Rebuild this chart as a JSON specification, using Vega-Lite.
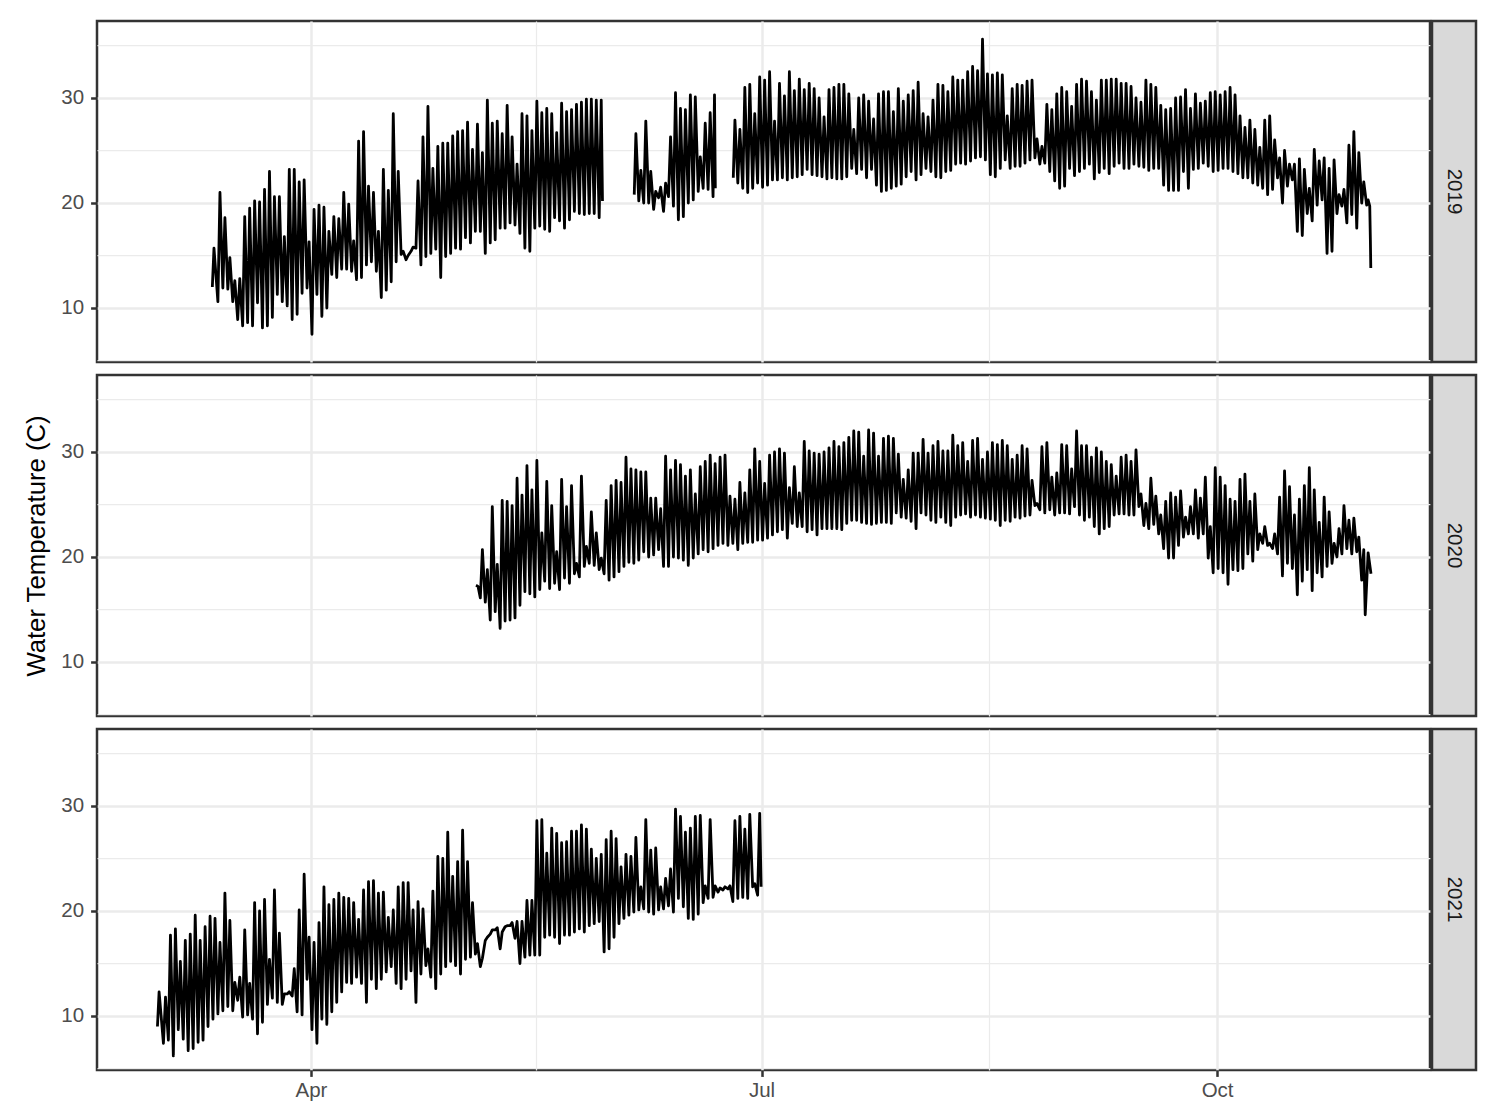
{
  "$schema": "https://vega.github.io/schema/vega-lite/v6.json",
  "background": "white",
  "padding": {"left": 22, "top": 19, "right": 5, "bottom": 5},
  "spacing": 0,
  "vconcat": [
    {
      "spacing": -3,
      "hconcat": [
        {
          "width": 1333,
          "height": 341,
          "data": {
            "format": {"parse": {"t": "date:'%m-%d %H'"}},
            "values": [
              {"t":"03-12 02","v":12.0},{"t":"03-12 10","v":15.7},
              {"t":"03-13 05","v":10.6},{"t":"03-13 15","v":21.0},
              {"t":"03-14 05","v":11.9},{"t":"03-14 15","v":18.6},
              {"t":"03-15 05","v":11.8},{"t":"03-15 15","v":14.8},
              {"t":"03-16 05","v":10.6},{"t":"03-16 15","v":12.6},
              {"t":"03-17 05","v":8.9},{"t":"03-17 15","v":12.8},
              {"t":"03-18 05","v":8.3},{"t":"03-18 15","v":18.7},
              {"t":"03-19 05","v":8.6},{"t":"03-19 15","v":19.5},
              {"t":"03-20 05","v":8.3},{"t":"03-20 15","v":20.2},
              {"t":"03-21 05","v":10.5},{"t":"03-21 15","v":20.1},
              {"t":"03-22 05","v":8.1},{"t":"03-22 15","v":21.3},
              {"t":"03-23 05","v":8.3},{"t":"03-23 15","v":23.0},
              {"t":"03-24 05","v":9.1},{"t":"03-24 15","v":20.6},
              {"t":"03-25 05","v":11.3},{"t":"03-25 15","v":20.6},
              {"t":"03-26 05","v":10.6},{"t":"03-26 15","v":16.8},
              {"t":"03-27 05","v":10.2},{"t":"03-27 15","v":23.2},
              {"t":"03-28 05","v":8.9},{"t":"03-28 15","v":23.2},
              {"t":"03-29 05","v":9.4},{"t":"03-29 15","v":22.0},
              {"t":"03-30 05","v":11.4},{"t":"03-30 15","v":22.2},
              {"t":"03-31 05","v":11.9},{"t":"03-31 15","v":16.3},
              {"t":"04-01 05","v":7.5},{"t":"04-01 15","v":19.4},
              {"t":"04-02 05","v":11.3},{"t":"04-02 15","v":19.8},
              {"t":"04-03 05","v":9.2},{"t":"04-03 15","v":19.6},
              {"t":"04-04 05","v":10.0},{"t":"04-04 15","v":17.3},
              {"t":"04-05 05","v":13.2},{"t":"04-05 15","v":18.7},
              {"t":"04-06 05","v":12.9},{"t":"04-06 15","v":18.5},
              {"t":"04-07 05","v":13.7},{"t":"04-07 15","v":21.0},
              {"t":"04-08 05","v":13.7},{"t":"04-08 15","v":19.9},
              {"t":"04-09 05","v":13.5},{"t":"04-09 15","v":16.4},
              {"t":"04-10 05","v":12.7},{"t":"04-10 15","v":25.9},
              {"t":"04-11 05","v":12.9},{"t":"04-11 15","v":26.8},
              {"t":"04-12 05","v":14.1},{"t":"04-12 15","v":21.6},
              {"t":"04-13 05","v":14.4},{"t":"04-13 15","v":21.0},
              {"t":"04-14 05","v":13.5},{"t":"04-14 15","v":17.3},
              {"t":"04-15 05","v":11.0},{"t":"04-15 15","v":23.2},
              {"t":"04-16 05","v":11.7},{"t":"04-16 15","v":21.2},
              {"t":"04-17 05","v":12.5},{"t":"04-17 15","v":28.5},
              {"t":"04-18 05","v":14.4},{"t":"04-18 15","v":23.0},
              {"t":"04-19 05","v":15.1},{"t":"04-19 15","v":15.4},
              {"t":"04-20 05","v":14.6},{"t":"04-20 15","v":15.0},
              {"t":"04-21 05","v":15.4},{"t":"04-21 15","v":15.8},
              {"t":"04-22 05","v":15.7},{"t":"04-22 15","v":22.1},
              {"t":"04-23 05","v":14.1},{"t":"04-23 15","v":26.3},
              {"t":"04-24 05","v":14.9},{"t":"04-24 15","v":29.2},
              {"t":"04-25 05","v":15.2},{"t":"04-25 15","v":23.3},
              {"t":"04-26 05","v":15.6},{"t":"04-26 15","v":25.4},
              {"t":"04-27 05","v":12.9},{"t":"04-27 15","v":25.7},
              {"t":"04-28 05","v":14.9},{"t":"04-28 15","v":25.7},
              {"t":"04-29 05","v":15.2},{"t":"04-29 15","v":26.4},
              {"t":"04-30 05","v":15.7},{"t":"04-30 15","v":26.8},
              {"t":"05-01 05","v":15.6},{"t":"05-01 15","v":26.9},
              {"t":"05-02 05","v":16.7},{"t":"05-02 15","v":27.7},
              {"t":"05-03 05","v":16.2},{"t":"05-03 15","v":25.1},
              {"t":"05-04 05","v":17.3},{"t":"05-04 15","v":27.5},
              {"t":"05-05 05","v":17.3},{"t":"05-05 15","v":24.8},
              {"t":"05-06 05","v":15.2},{"t":"05-06 15","v":29.8},
              {"t":"05-07 05","v":16.2},{"t":"05-07 15","v":27.6},
              {"t":"05-08 05","v":16.5},{"t":"05-08 15","v":27.8},
              {"t":"05-09 05","v":17.6},{"t":"05-09 15","v":26.6},
              {"t":"05-10 05","v":17.6},{"t":"05-10 15","v":29.3},
              {"t":"05-11 05","v":18.1},{"t":"05-11 15","v":26.3},
              {"t":"05-12 05","v":17.9},{"t":"05-12 15","v":23.7},
              {"t":"05-13 05","v":17.1},{"t":"05-13 15","v":28.5},
              {"t":"05-14 05","v":15.7},{"t":"05-14 15","v":28.3},
              {"t":"05-15 05","v":15.4},{"t":"05-15 15","v":26.9},
              {"t":"05-16 05","v":17.6},{"t":"05-16 15","v":29.7},
              {"t":"05-17 05","v":17.8},{"t":"05-17 15","v":28.6},
              {"t":"05-18 05","v":17.5},{"t":"05-18 15","v":29.0},
              {"t":"05-19 05","v":17.3},{"t":"05-19 15","v":28.5},
              {"t":"05-20 05","v":18.6},{"t":"05-20 15","v":26.7},
              {"t":"05-21 05","v":18.3},{"t":"05-21 15","v":29.5},
              {"t":"05-22 05","v":17.6},{"t":"05-22 15","v":28.7},
              {"t":"05-23 05","v":18.4},{"t":"05-23 15","v":28.9},
              {"t":"05-24 05","v":19.2},{"t":"05-24 15","v":29.4},
              {"t":"05-25 05","v":19.0},{"t":"05-25 15","v":29.6},
              {"t":"05-26 05","v":18.9},{"t":"05-26 15","v":29.9},
              {"t":"05-27 05","v":19.0},{"t":"05-27 15","v":29.9},
              {"t":"05-28 05","v":19.0},{"t":"05-28 15","v":29.8},
              {"t":"05-29 05","v":18.6},{"t":"05-29 15","v":29.8},
              {"t":"05-29 21","v":20.2},
              {"t":"06-02 00","v":null},
              {"t":"06-05 07","v":20.8},{"t":"06-05 15","v":26.6},
              {"t":"06-06 05","v":20.2},{"t":"06-06 15","v":23.1},
              {"t":"06-07 05","v":20.0},{"t":"06-07 15","v":27.8},
              {"t":"06-08 05","v":20.0},{"t":"06-08 15","v":23.0},
              {"t":"06-09 05","v":19.4},{"t":"06-09 15","v":21.1},
              {"t":"06-10 05","v":20.5},{"t":"06-10 15","v":21.5},
              {"t":"06-11 05","v":19.2},{"t":"06-11 15","v":21.9},
              {"t":"06-12 05","v":20.6},{"t":"06-12 15","v":26.3},
              {"t":"06-13 05","v":19.7},{"t":"06-13 15","v":30.5},
              {"t":"06-14 05","v":18.4},{"t":"06-14 15","v":29.0},
              {"t":"06-15 05","v":18.7},{"t":"06-15 15","v":28.9},
              {"t":"06-16 05","v":20.0},{"t":"06-16 15","v":30.3},
              {"t":"06-17 05","v":20.3},{"t":"06-17 15","v":30.1},
              {"t":"06-18 05","v":21.1},{"t":"06-18 15","v":24.4},
              {"t":"06-19 05","v":21.4},{"t":"06-19 15","v":27.6},
              {"t":"06-20 05","v":21.3},{"t":"06-20 15","v":28.6},
              {"t":"06-21 05","v":20.6},{"t":"06-21 12","v":30.3},
              {"t":"06-21 16","v":21.4},
              {"t":"06-23 12","v":null},
              {"t":"06-25 07","v":22.4},{"t":"06-25 15","v":27.9},
              {"t":"06-26 05","v":21.9},{"t":"06-26 15","v":27.0},
              {"t":"06-27 05","v":21.4},{"t":"06-27 15","v":31.0},
              {"t":"06-28 05","v":21.0},{"t":"06-28 15","v":31.3},
              {"t":"06-29 05","v":21.4},{"t":"06-29 15","v":28.5},
              {"t":"06-30 05","v":21.9},{"t":"06-30 15","v":32.0},
              {"t":"07-01 05","v":21.5},{"t":"07-01 15","v":31.7},
              {"t":"07-02 05","v":21.7},{"t":"07-02 15","v":32.5},
              {"t":"07-03 05","v":22.2},{"t":"07-03 15","v":27.8},
              {"t":"07-04 05","v":22.2},{"t":"07-04 15","v":31.4},
              {"t":"07-05 05","v":22.4},{"t":"07-05 15","v":30.2},
              {"t":"07-06 05","v":22.2},{"t":"07-06 15","v":32.5},
              {"t":"07-07 05","v":22.4},{"t":"07-07 15","v":30.7},
              {"t":"07-08 05","v":22.5},{"t":"07-08 15","v":31.8},
              {"t":"07-09 05","v":22.7},{"t":"07-09 15","v":30.8},
              {"t":"07-10 05","v":23.2},{"t":"07-10 15","v":31.4},
              {"t":"07-11 05","v":22.7},{"t":"07-11 15","v":30.9},
              {"t":"07-12 05","v":22.6},{"t":"07-12 15","v":30.0},
              {"t":"07-13 05","v":22.5},{"t":"07-13 15","v":28.2},
              {"t":"07-14 05","v":22.3},{"t":"07-14 15","v":30.8},
              {"t":"07-15 05","v":22.4},{"t":"07-15 15","v":31.0},
              {"t":"07-16 05","v":22.3},{"t":"07-16 15","v":31.3},
              {"t":"07-17 05","v":22.3},{"t":"07-17 15","v":31.3},
              {"t":"07-18 05","v":22.5},{"t":"07-18 15","v":30.4},
              {"t":"07-19 05","v":23.3},{"t":"07-19 15","v":27.0},
              {"t":"07-20 05","v":22.8},{"t":"07-20 15","v":30.0},
              {"t":"07-21 05","v":23.2},{"t":"07-21 15","v":30.3},
              {"t":"07-22 05","v":22.4},{"t":"07-22 15","v":29.7},
              {"t":"07-23 05","v":23.2},{"t":"07-23 15","v":28.0},
              {"t":"07-24 05","v":21.7},{"t":"07-24 15","v":30.4},
              {"t":"07-25 05","v":21.1},{"t":"07-25 15","v":30.6},
              {"t":"07-26 05","v":21.2},{"t":"07-26 15","v":30.6},
              {"t":"07-27 05","v":21.4},{"t":"07-27 15","v":28.7},
              {"t":"07-28 05","v":21.6},{"t":"07-28 15","v":30.9},
              {"t":"07-29 05","v":21.8},{"t":"07-29 15","v":29.7},
              {"t":"07-30 05","v":22.5},{"t":"07-30 15","v":30.3},
              {"t":"07-31 05","v":23.0},{"t":"07-31 15","v":30.7},
              {"t":"08-01 05","v":22.2},{"t":"08-01 15","v":31.5},
              {"t":"08-02 05","v":22.7},{"t":"08-02 15","v":28.5},
              {"t":"08-03 05","v":23.3},{"t":"08-03 15","v":28.2},
              {"t":"08-04 05","v":23.0},{"t":"08-04 15","v":29.8},
              {"t":"08-05 05","v":22.5},{"t":"08-05 15","v":31.3},
              {"t":"08-06 05","v":22.4},{"t":"08-06 15","v":31.2},
              {"t":"08-07 05","v":23.0},{"t":"08-07 15","v":30.6},
              {"t":"08-08 05","v":23.1},{"t":"08-08 15","v":32.0},
              {"t":"08-09 05","v":23.7},{"t":"08-09 15","v":31.7},
              {"t":"08-10 05","v":23.8},{"t":"08-10 15","v":31.7},
              {"t":"08-11 05","v":23.7},{"t":"08-11 15","v":32.5},
              {"t":"08-12 05","v":24.0},{"t":"08-12 15","v":33.0},
              {"t":"08-13 05","v":24.3},{"t":"08-13 15","v":32.6},
              {"t":"08-14 05","v":24.4},{"t":"08-14 15","v":35.6},
              {"t":"08-15 05","v":24.1},{"t":"08-15 15","v":32.3},
              {"t":"08-16 05","v":22.7},{"t":"08-16 15","v":32.2},
              {"t":"08-17 05","v":22.5},{"t":"08-17 15","v":32.4},
              {"t":"08-18 05","v":23.3},{"t":"08-18 15","v":32.2},
              {"t":"08-19 05","v":24.1},{"t":"08-19 15","v":28.3},
              {"t":"08-20 05","v":23.3},{"t":"08-20 15","v":30.9},
              {"t":"08-21 05","v":23.5},{"t":"08-21 15","v":31.3},
              {"t":"08-22 05","v":23.5},{"t":"08-22 15","v":31.2},
              {"t":"08-23 05","v":23.8},{"t":"08-23 15","v":31.6},
              {"t":"08-24 05","v":24.1},{"t":"08-24 15","v":31.7},
              {"t":"08-25 05","v":24.3},{"t":"08-25 15","v":26.1},
              {"t":"08-26 05","v":23.7},{"t":"08-26 15","v":25.4},
              {"t":"08-27 05","v":23.8},{"t":"08-27 15","v":29.4},
              {"t":"08-28 05","v":23.0},{"t":"08-28 15","v":28.9},
              {"t":"08-29 05","v":22.1},{"t":"08-29 15","v":30.4},
              {"t":"08-30 05","v":21.4},{"t":"08-30 15","v":31.0},
              {"t":"08-31 05","v":21.6},{"t":"08-31 15","v":30.6},
              {"t":"09-01 05","v":23.3},{"t":"09-01 15","v":29.2},
              {"t":"09-02 05","v":22.6},{"t":"09-02 15","v":31.3},
              {"t":"09-03 05","v":23.0},{"t":"09-03 15","v":31.8},
              {"t":"09-04 05","v":23.3},{"t":"09-04 15","v":31.6},
              {"t":"09-05 05","v":23.7},{"t":"09-05 15","v":30.6},
              {"t":"09-06 05","v":22.3},{"t":"09-06 15","v":29.8},
              {"t":"09-07 05","v":22.9},{"t":"09-07 15","v":31.7},
              {"t":"09-08 05","v":23.3},{"t":"09-08 15","v":31.7},
              {"t":"09-09 05","v":22.8},{"t":"09-09 15","v":31.8},
              {"t":"09-10 05","v":23.5},{"t":"09-10 15","v":31.8},
              {"t":"09-11 05","v":23.8},{"t":"09-11 15","v":31.4},
              {"t":"09-12 05","v":23.3},{"t":"09-12 15","v":31.4},
              {"t":"09-13 05","v":23.3},{"t":"09-13 15","v":31.1},
              {"t":"09-14 05","v":23.7},{"t":"09-14 15","v":30.0},
              {"t":"09-15 05","v":23.5},{"t":"09-15 15","v":29.6},
              {"t":"09-16 05","v":23.4},{"t":"09-16 15","v":31.7},
              {"t":"09-17 05","v":23.1},{"t":"09-17 15","v":31.3},
              {"t":"09-18 05","v":23.3},{"t":"09-18 15","v":31.0},
              {"t":"09-19 05","v":23.3},{"t":"09-19 15","v":29.3},
              {"t":"09-20 05","v":21.7},{"t":"09-20 15","v":28.9},
              {"t":"09-21 05","v":21.2},{"t":"09-21 15","v":29.0},
              {"t":"09-22 05","v":21.2},{"t":"09-22 15","v":30.0},
              {"t":"09-23 05","v":21.2},{"t":"09-23 15","v":30.1},
              {"t":"09-24 05","v":23.0},{"t":"09-24 15","v":30.8},
              {"t":"09-25 05","v":21.4},{"t":"09-25 15","v":29.0},
              {"t":"09-26 05","v":23.2},{"t":"09-26 15","v":30.4},
              {"t":"09-27 05","v":23.3},{"t":"09-27 15","v":29.5},
              {"t":"09-28 05","v":23.8},{"t":"09-28 15","v":29.7},
              {"t":"09-29 05","v":23.5},{"t":"09-29 15","v":30.5},
              {"t":"09-30 05","v":23.0},{"t":"09-30 15","v":30.6},
              {"t":"10-01 05","v":23.1},{"t":"10-01 15","v":30.3},
              {"t":"10-02 05","v":23.3},{"t":"10-02 15","v":30.6},
              {"t":"10-03 05","v":23.3},{"t":"10-03 15","v":31.0},
              {"t":"10-04 05","v":23.0},{"t":"10-04 15","v":30.3},
              {"t":"10-05 05","v":22.8},{"t":"10-05 15","v":28.3},
              {"t":"10-06 05","v":22.4},{"t":"10-06 15","v":27.2},
              {"t":"10-07 05","v":22.4},{"t":"10-07 15","v":27.9},
              {"t":"10-08 05","v":21.9},{"t":"10-08 15","v":27.0},
              {"t":"10-09 05","v":21.7},{"t":"10-09 15","v":25.3},
              {"t":"10-10 05","v":21.4},{"t":"10-10 15","v":27.9},
              {"t":"10-11 05","v":20.8},{"t":"10-11 15","v":28.3},
              {"t":"10-12 05","v":21.3},{"t":"10-12 15","v":26.0},
              {"t":"10-13 05","v":22.4},{"t":"10-13 15","v":24.3},
              {"t":"10-14 05","v":20.0},{"t":"10-14 15","v":25.0},
              {"t":"10-15 05","v":21.6},{"t":"10-15 15","v":23.7},
              {"t":"10-16 05","v":22.2},{"t":"10-16 15","v":23.7},
              {"t":"10-17 05","v":17.3},{"t":"10-17 15","v":24.2},
              {"t":"10-18 05","v":16.9},{"t":"10-18 15","v":23.2},
              {"t":"10-19 05","v":19.0},{"t":"10-19 15","v":21.4},
              {"t":"10-20 05","v":18.3},{"t":"10-20 15","v":25.1},
              {"t":"10-21 05","v":19.8},{"t":"10-21 15","v":24.0},
              {"t":"10-22 05","v":20.3},{"t":"10-22 15","v":24.3},
              {"t":"10-23 05","v":15.2},{"t":"10-23 15","v":23.3},
              {"t":"10-24 05","v":15.4},{"t":"10-24 15","v":24.1},
              {"t":"10-25 05","v":19.0},{"t":"10-25 15","v":20.8},
              {"t":"10-26 05","v":19.7},{"t":"10-26 15","v":21.3},
              {"t":"10-27 05","v":18.1},{"t":"10-27 15","v":25.5},
              {"t":"10-28 05","v":18.9},{"t":"10-28 15","v":26.8},
              {"t":"10-29 05","v":17.6},{"t":"10-29 15","v":24.8},
              {"t":"10-30 05","v":20.0},{"t":"10-30 15","v":22.0},
              {"t":"10-31 05","v":19.8},{"t":"10-31 12","v":20.3},
              {"t":"10-31 20","v":19.7},{"t":"10-31 23","v":16.5},
              {"t":"11-01 01","v":13.8}
            ]
          },
          "mark": {"type": "line", "color": "#000000", "strokeWidth": 2.8, "strokeJoin": "round"},
          "encoding": {
            "x": {
              "field": "t", "type": "temporal",
              "scale": {"domain": [{"year": 1900, "month": 2, "date": 16, "hours": 19}, {"year": 1900, "month": 11, "date": 13}]},
              "axis": {
                "title": null, "labels": false, "ticks": false,
                "values": [{"year": 1900, "month": 4, "date": 1}, {"year": 1900, "month": 5, "date": 16, "hours": 12}, {"year": 1900, "month": 7, "date": 1}, {"year": 1900, "month": 8, "date": 16}, {"year": 1900, "month": 10, "date": 1}],
                "gridWidth": {"condition": {"test": "date(datum.value) == 1", "value": 2.5}, "value": 1.25}
              }
            },
            "y": {
              "field": "v", "type": "quantitative",
              "scale": {"domain": [4.857, 37.333], "nice": false, "zero": false},
              "axis": {
                "title": null,
                "values": [5, 10, 15, 20, 25, 30, 35],
                "labelExpr": "datum.value % 10 == 0 ? datum.label : ''",
                "tickOpacity": {"condition": {"test": "datum.value % 10 == 0", "value": 1}, "value": 0},
                "gridWidth": {"condition": {"test": "datum.value % 10 == 0", "value": 2.5}, "value": 1.25}
              }
            }
          }
        },
        {
          "width": 44,
          "height": 341,
          "data": {"values": [{"yr": "2019"}]},
          "view": {"fill": "#D9D9D9", "stroke": "#333333", "strokeWidth": 2.5},
          "mark": {"type": "text", "angle": 90, "fontSize": 20.5, "color": "#1A1A1A", "align": "center", "baseline": "middle"},
          "encoding": {"text": {"field": "yr", "type": "nominal"}}
        }
      ]
    },
    {
      "spacing": -3,
      "hconcat": [
        {
          "width": 1333,
          "height": 341,
          "data": {
            "format": {"parse": {"t": "date:'%m-%d %H'"}},
            "values": [
              {"t":"05-04 08","v":17.3},{"t":"05-04 18","v":17.2},
              {"t":"05-05 05","v":16.1},{"t":"05-05 15","v":20.7},
              {"t":"05-06 05","v":15.7},{"t":"05-06 15","v":18.8},
              {"t":"05-07 05","v":14.0},{"t":"05-07 15","v":24.8},
              {"t":"05-08 05","v":14.8},{"t":"05-08 15","v":19.3},
              {"t":"05-09 05","v":13.2},{"t":"05-09 15","v":25.4},
              {"t":"05-10 05","v":13.9},{"t":"05-10 15","v":25.3},
              {"t":"05-11 05","v":14.0},{"t":"05-11 15","v":24.9},
              {"t":"05-12 05","v":14.2},{"t":"05-12 15","v":27.5},
              {"t":"05-13 05","v":15.4},{"t":"05-13 15","v":25.9},
              {"t":"05-14 05","v":16.7},{"t":"05-14 15","v":28.7},
              {"t":"05-15 05","v":16.5},{"t":"05-15 15","v":26.4},
              {"t":"05-16 05","v":16.2},{"t":"05-16 15","v":29.2},
              {"t":"05-17 05","v":16.9},{"t":"05-17 15","v":22.3},
              {"t":"05-18 05","v":17.7},{"t":"05-18 15","v":27.2},
              {"t":"05-19 05","v":17.0},{"t":"05-19 15","v":24.9},
              {"t":"05-20 05","v":17.5},{"t":"05-20 15","v":20.5},
              {"t":"05-21 05","v":16.9},{"t":"05-21 15","v":27.4},
              {"t":"05-22 05","v":18.0},{"t":"05-22 15","v":24.8},
              {"t":"05-23 05","v":17.5},{"t":"05-23 15","v":26.8},
              {"t":"05-24 05","v":18.4},{"t":"05-24 15","v":19.4},
              {"t":"05-25 05","v":18.1},{"t":"05-25 15","v":27.7},
              {"t":"05-26 05","v":19.1},{"t":"05-26 15","v":21.0},
              {"t":"05-27 05","v":19.4},{"t":"05-27 15","v":24.3},
              {"t":"05-28 05","v":19.2},{"t":"05-28 15","v":22.3},
              {"t":"05-29 05","v":18.8},{"t":"05-29 15","v":19.9},
              {"t":"05-30 05","v":18.4},{"t":"05-30 15","v":25.4},
              {"t":"05-31 05","v":17.8},{"t":"05-31 15","v":26.8},
              {"t":"06-01 05","v":18.1},{"t":"06-01 15","v":27.3},
              {"t":"06-02 05","v":18.6},{"t":"06-02 15","v":27.1},
              {"t":"06-03 05","v":19.1},{"t":"06-03 15","v":29.5},
              {"t":"06-04 05","v":19.5},{"t":"06-04 15","v":28.4},
              {"t":"06-05 05","v":19.4},{"t":"06-05 15","v":28.3},
              {"t":"06-06 05","v":19.7},{"t":"06-06 15","v":28.1},
              {"t":"06-07 05","v":20.5},{"t":"06-07 15","v":28.1},
              {"t":"06-08 05","v":20.0},{"t":"06-08 15","v":25.6},
              {"t":"06-09 05","v":20.2},{"t":"06-09 15","v":25.6},
              {"t":"06-10 05","v":20.7},{"t":"06-10 15","v":24.6},
              {"t":"06-11 05","v":19.1},{"t":"06-11 15","v":29.6},
              {"t":"06-12 05","v":19.1},{"t":"06-12 15","v":28.3},
              {"t":"06-13 05","v":20.0},{"t":"06-13 15","v":29.2},
              {"t":"06-14 05","v":19.9},{"t":"06-14 15","v":28.8},
              {"t":"06-15 05","v":19.7},{"t":"06-15 15","v":27.7},
              {"t":"06-16 05","v":19.2},{"t":"06-16 15","v":28.3},
              {"t":"06-17 05","v":19.9},{"t":"06-17 15","v":26.0},
              {"t":"06-18 05","v":20.3},{"t":"06-18 15","v":28.6},
              {"t":"06-19 05","v":20.7},{"t":"06-19 15","v":29.1},
              {"t":"06-20 05","v":20.5},{"t":"06-20 15","v":29.7},
              {"t":"06-21 05","v":20.8},{"t":"06-21 15","v":28.9},
              {"t":"06-22 05","v":21.1},{"t":"06-22 15","v":29.5},
              {"t":"06-23 05","v":21.3},{"t":"06-23 15","v":29.7},
              {"t":"06-24 05","v":21.1},{"t":"06-24 15","v":25.8},
              {"t":"06-25 05","v":21.3},{"t":"06-25 15","v":25.5},
              {"t":"06-26 05","v":20.7},{"t":"06-26 15","v":27.1},
              {"t":"06-27 05","v":21.3},{"t":"06-27 15","v":26.1},
              {"t":"06-28 05","v":21.4},{"t":"06-28 15","v":28.3},
              {"t":"06-29 05","v":21.4},{"t":"06-29 15","v":30.3},
              {"t":"06-30 05","v":21.6},{"t":"06-30 15","v":29.1},
              {"t":"07-01 05","v":21.6},{"t":"07-01 15","v":27.0},
              {"t":"07-02 05","v":21.8},{"t":"07-02 15","v":29.7},
              {"t":"07-03 05","v":22.1},{"t":"07-03 15","v":30.0},
              {"t":"07-04 05","v":22.4},{"t":"07-04 15","v":30.3},
              {"t":"07-05 05","v":22.6},{"t":"07-05 15","v":29.9},
              {"t":"07-06 05","v":21.8},{"t":"07-06 15","v":26.6},
              {"t":"07-07 05","v":23.2},{"t":"07-07 15","v":28.6},
              {"t":"07-08 05","v":22.9},{"t":"07-08 15","v":26.1},
              {"t":"07-09 05","v":22.9},{"t":"07-09 15","v":31.0},
              {"t":"07-10 05","v":22.4},{"t":"07-10 15","v":30.1},
              {"t":"07-11 05","v":22.6},{"t":"07-11 15","v":29.9},
              {"t":"07-12 05","v":22.1},{"t":"07-12 15","v":29.8},
              {"t":"07-13 05","v":22.7},{"t":"07-13 15","v":30.0},
              {"t":"07-14 05","v":22.7},{"t":"07-14 15","v":30.4},
              {"t":"07-15 05","v":22.7},{"t":"07-15 15","v":31.0},
              {"t":"07-16 05","v":22.7},{"t":"07-16 15","v":30.5},
              {"t":"07-17 05","v":22.6},{"t":"07-17 15","v":30.9},
              {"t":"07-18 05","v":23.2},{"t":"07-18 15","v":31.4},
              {"t":"07-19 05","v":23.5},{"t":"07-19 15","v":32.0},
              {"t":"07-20 05","v":23.5},{"t":"07-20 15","v":31.9},
              {"t":"07-21 05","v":23.3},{"t":"07-21 15","v":29.6},
              {"t":"07-22 05","v":23.2},{"t":"07-22 15","v":32.1},
              {"t":"07-23 05","v":23.1},{"t":"07-23 15","v":31.8},
              {"t":"07-24 05","v":23.2},{"t":"07-24 15","v":29.6},
              {"t":"07-25 05","v":23.3},{"t":"07-25 15","v":31.3},
              {"t":"07-26 05","v":23.3},{"t":"07-26 15","v":31.5},
              {"t":"07-27 05","v":23.2},{"t":"07-27 15","v":31.3},
              {"t":"07-28 05","v":24.2},{"t":"07-28 15","v":29.8},
              {"t":"07-29 05","v":23.8},{"t":"07-29 15","v":27.4},
              {"t":"07-30 05","v":23.7},{"t":"07-30 15","v":28.3},
              {"t":"07-31 05","v":23.4},{"t":"07-31 15","v":29.9},
              {"t":"08-01 05","v":22.7},{"t":"08-01 15","v":29.9},
              {"t":"08-02 05","v":24.2},{"t":"08-02 15","v":31.2},
              {"t":"08-03 05","v":24.0},{"t":"08-03 15","v":29.9},
              {"t":"08-04 05","v":23.5},{"t":"08-04 15","v":30.6},
              {"t":"08-05 05","v":23.3},{"t":"08-05 15","v":31.0},
              {"t":"08-06 05","v":23.8},{"t":"08-06 15","v":30.1},
              {"t":"08-07 05","v":23.3},{"t":"08-07 15","v":30.1},
              {"t":"08-08 05","v":23.0},{"t":"08-08 15","v":31.6},
              {"t":"08-09 05","v":23.8},{"t":"08-09 15","v":30.6},
              {"t":"08-10 05","v":24.0},{"t":"08-10 15","v":30.9},
              {"t":"08-11 05","v":24.1},{"t":"08-11 15","v":29.1},
              {"t":"08-12 05","v":23.8},{"t":"08-12 15","v":31.1},
              {"t":"08-13 05","v":24.0},{"t":"08-13 15","v":31.3},
              {"t":"08-14 05","v":23.8},{"t":"08-14 15","v":29.3},
              {"t":"08-15 05","v":23.7},{"t":"08-15 15","v":30.0},
              {"t":"08-16 05","v":23.6},{"t":"08-16 15","v":30.9},
              {"t":"08-17 05","v":23.5},{"t":"08-17 15","v":30.7},
              {"t":"08-18 05","v":23.0},{"t":"08-18 15","v":31.1},
              {"t":"08-19 05","v":23.5},{"t":"08-19 15","v":30.6},
              {"t":"08-20 05","v":23.4},{"t":"08-20 15","v":29.3},
              {"t":"08-21 05","v":23.8},{"t":"08-21 15","v":29.7},
              {"t":"08-22 05","v":23.7},{"t":"08-22 15","v":30.6},
              {"t":"08-23 05","v":23.9},{"t":"08-23 15","v":30.3},
              {"t":"08-24 05","v":24.0},{"t":"08-24 15","v":27.3},
              {"t":"08-25 05","v":24.9},{"t":"08-25 15","v":25.1},
              {"t":"08-26 05","v":24.5},{"t":"08-26 15","v":30.5},
              {"t":"08-27 05","v":24.2},{"t":"08-27 15","v":30.9},
              {"t":"08-28 05","v":24.5},{"t":"08-28 15","v":27.6},
              {"t":"08-29 05","v":24.0},{"t":"08-29 15","v":28.0},
              {"t":"08-30 05","v":24.2},{"t":"08-30 15","v":30.7},
              {"t":"08-31 05","v":24.2},{"t":"08-31 15","v":30.6},
              {"t":"09-01 05","v":24.1},{"t":"09-01 15","v":28.4},
              {"t":"09-02 05","v":24.8},{"t":"09-02 15","v":32.0},
              {"t":"09-03 05","v":24.0},{"t":"09-03 15","v":30.6},
              {"t":"09-04 05","v":23.5},{"t":"09-04 15","v":30.6},
              {"t":"09-05 05","v":23.8},{"t":"09-05 15","v":29.5},
              {"t":"09-06 05","v":22.9},{"t":"09-06 15","v":30.4},
              {"t":"09-07 05","v":22.2},{"t":"09-07 15","v":30.0},
              {"t":"09-08 05","v":22.7},{"t":"09-08 15","v":29.1},
              {"t":"09-09 05","v":22.9},{"t":"09-09 15","v":28.8},
              {"t":"09-10 05","v":24.0},{"t":"09-10 15","v":27.7},
              {"t":"09-11 05","v":24.1},{"t":"09-11 15","v":29.5},
              {"t":"09-12 05","v":24.1},{"t":"09-12 15","v":29.7},
              {"t":"09-13 05","v":24.0},{"t":"09-13 15","v":29.1},
              {"t":"09-14 05","v":24.0},{"t":"09-14 15","v":30.2},
              {"t":"09-15 05","v":24.8},{"t":"09-15 15","v":26.0},
              {"t":"09-16 05","v":23.0},{"t":"09-16 15","v":25.1},
              {"t":"09-17 05","v":22.7},{"t":"09-17 15","v":27.5},
              {"t":"09-18 05","v":23.1},{"t":"09-18 15","v":25.8},
              {"t":"09-19 05","v":22.2},{"t":"09-19 15","v":24.0},
              {"t":"09-20 05","v":20.8},{"t":"09-20 15","v":25.3},
              {"t":"09-21 05","v":19.9},{"t":"09-21 15","v":26.1},
              {"t":"09-22 05","v":19.9},{"t":"09-22 15","v":25.7},
              {"t":"09-23 05","v":21.1},{"t":"09-23 15","v":26.3},
              {"t":"09-24 05","v":21.9},{"t":"09-24 15","v":23.8},
              {"t":"09-25 05","v":22.2},{"t":"09-25 15","v":24.8},
              {"t":"09-26 05","v":22.2},{"t":"09-26 15","v":26.4},
              {"t":"09-27 05","v":21.8},{"t":"09-27 15","v":25.6},
              {"t":"09-28 05","v":22.2},{"t":"09-28 15","v":27.6},
              {"t":"09-29 05","v":19.9},{"t":"09-29 15","v":22.9},
              {"t":"09-30 05","v":18.5},{"t":"09-30 15","v":28.5},
              {"t":"10-01 05","v":18.9},{"t":"10-01 15","v":27.6},
              {"t":"10-02 05","v":18.5},{"t":"10-02 15","v":26.8},
              {"t":"10-03 05","v":17.4},{"t":"10-03 15","v":25.5},
              {"t":"10-04 05","v":18.8},{"t":"10-04 15","v":25.3},
              {"t":"10-05 05","v":18.7},{"t":"10-05 15","v":27.4},
              {"t":"10-06 05","v":18.9},{"t":"10-06 15","v":27.9},
              {"t":"10-07 05","v":20.3},{"t":"10-07 15","v":25.3},
              {"t":"10-08 05","v":19.6},{"t":"10-08 15","v":26.0},
              {"t":"10-09 05","v":20.7},{"t":"10-09 15","v":22.2},
              {"t":"10-10 05","v":21.3},{"t":"10-10 15","v":22.9},
              {"t":"10-11 05","v":21.1},{"t":"10-11 15","v":21.3},
              {"t":"10-12 05","v":20.8},{"t":"10-12 15","v":22.2},
              {"t":"10-13 05","v":20.3},{"t":"10-13 15","v":25.7},
              {"t":"10-14 05","v":18.2},{"t":"10-14 15","v":28.2},
              {"t":"10-15 05","v":19.4},{"t":"10-15 15","v":26.7},
              {"t":"10-16 05","v":18.9},{"t":"10-16 15","v":24.0},
              {"t":"10-17 05","v":16.4},{"t":"10-17 15","v":25.5},
              {"t":"10-18 05","v":17.7},{"t":"10-18 15","v":26.8},
              {"t":"10-19 05","v":18.8},{"t":"10-19 15","v":28.5},
              {"t":"10-20 05","v":16.8},{"t":"10-20 15","v":26.4},
              {"t":"10-21 05","v":18.5},{"t":"10-21 15","v":23.3},
              {"t":"10-22 05","v":18.1},{"t":"10-22 15","v":25.7},
              {"t":"10-23 05","v":19.1},{"t":"10-23 15","v":24.3},
              {"t":"10-24 05","v":19.4},{"t":"10-24 15","v":21.3},
              {"t":"10-25 05","v":20.0},{"t":"10-25 15","v":22.7},
              {"t":"10-26 05","v":20.3},{"t":"10-26 15","v":24.9},
              {"t":"10-27 05","v":20.8},{"t":"10-27 15","v":23.5},
              {"t":"10-28 05","v":20.3},{"t":"10-28 15","v":23.7},
              {"t":"10-29 05","v":20.5},{"t":"10-29 15","v":21.9},
              {"t":"10-30 05","v":17.8},{"t":"10-30 15","v":20.7},
              {"t":"10-30 22","v":14.5},{"t":"10-31 12","v":20.4},
              {"t":"11-01 02","v":18.4}
            ]
          },
          "mark": {"type": "line", "color": "#000000", "strokeWidth": 2.8, "strokeJoin": "round"},
          "encoding": {
            "x": {
              "field": "t", "type": "temporal",
              "scale": {"domain": [{"year": 1900, "month": 2, "date": 16, "hours": 19}, {"year": 1900, "month": 11, "date": 13}]},
              "axis": {
                "title": null, "labels": false, "ticks": false,
                "values": [{"year": 1900, "month": 4, "date": 1}, {"year": 1900, "month": 5, "date": 16, "hours": 12}, {"year": 1900, "month": 7, "date": 1}, {"year": 1900, "month": 8, "date": 16}, {"year": 1900, "month": 10, "date": 1}],
                "gridWidth": {"condition": {"test": "date(datum.value) == 1", "value": 2.5}, "value": 1.25}
              }
            },
            "y": {
              "field": "v", "type": "quantitative",
              "scale": {"domain": [4.857, 37.333], "nice": false, "zero": false},
              "axis": {
                "title": "Water Temperature (C)",
                "values": [5, 10, 15, 20, 25, 30, 35],
                "labelExpr": "datum.value % 10 == 0 ? datum.label : ''",
                "tickOpacity": {"condition": {"test": "datum.value % 10 == 0", "value": 1}, "value": 0},
                "gridWidth": {"condition": {"test": "datum.value % 10 == 0", "value": 2.5}, "value": 1.25}
              }
            }
          }
        },
        {
          "width": 44,
          "height": 341,
          "data": {"values": [{"yr": "2020"}]},
          "view": {"fill": "#D9D9D9", "stroke": "#333333", "strokeWidth": 2.5},
          "mark": {"type": "text", "angle": 90, "fontSize": 20.5, "color": "#1A1A1A", "align": "center", "baseline": "middle"},
          "encoding": {"text": {"field": "yr", "type": "nominal"}}
        }
      ]
    },
    {
      "spacing": -3,
      "hconcat": [
        {
          "width": 1333,
          "height": 341,
          "data": {
            "format": {"parse": {"t": "date:'%m-%d %H'"}},
            "values": [
              {"t":"03-01 00","v":9.0},{"t":"03-01 08","v":12.3},
              {"t":"03-02 05","v":7.4},{"t":"03-02 15","v":11.8},
              {"t":"03-03 05","v":7.7},{"t":"03-03 15","v":17.7},
              {"t":"03-04 05","v":6.2},{"t":"03-04 15","v":18.3},
              {"t":"03-05 05","v":8.7},{"t":"03-05 15","v":15.2},
              {"t":"03-06 05","v":7.8},{"t":"03-06 15","v":17.2},
              {"t":"03-07 05","v":6.7},{"t":"03-07 15","v":17.8},
              {"t":"03-08 05","v":6.9},{"t":"03-08 15","v":19.6},
              {"t":"03-09 05","v":7.5},{"t":"03-09 15","v":17.2},
              {"t":"03-10 05","v":7.7},{"t":"03-10 15","v":18.5},
              {"t":"03-11 05","v":9.0},{"t":"03-11 15","v":19.5},
              {"t":"03-12 05","v":9.7},{"t":"03-12 15","v":19.3},
              {"t":"03-13 05","v":10.2},{"t":"03-13 15","v":17.0},
              {"t":"03-14 05","v":10.5},{"t":"03-14 15","v":21.7},
              {"t":"03-15 05","v":10.9},{"t":"03-15 15","v":19.1},
              {"t":"03-16 05","v":10.5},{"t":"03-16 15","v":13.2},
              {"t":"03-17 05","v":11.5},{"t":"03-17 15","v":13.7},
              {"t":"03-18 05","v":9.9},{"t":"03-18 15","v":18.2},
              {"t":"03-19 05","v":10.1},{"t":"03-19 15","v":13.1},
              {"t":"03-20 05","v":9.7},{"t":"03-20 15","v":20.8},
              {"t":"03-21 05","v":8.3},{"t":"03-21 15","v":20.0},
              {"t":"03-22 05","v":9.4},{"t":"03-22 15","v":21.1},
              {"t":"03-23 05","v":11.1},{"t":"03-23 15","v":15.4},
              {"t":"03-24 05","v":11.7},{"t":"03-24 15","v":22.0},
              {"t":"03-25 05","v":11.3},{"t":"03-25 15","v":17.9},
              {"t":"03-26 05","v":11.1},{"t":"03-26 15","v":12.1},
              {"t":"03-27 05","v":12.1},{"t":"03-27 15","v":12.3},
              {"t":"03-28 05","v":11.9},{"t":"03-28 15","v":14.5},
              {"t":"03-29 05","v":10.4},{"t":"03-29 15","v":20.1},
              {"t":"03-30 05","v":10.1},{"t":"03-30 15","v":23.5},
              {"t":"03-31 05","v":13.5},{"t":"03-31 15","v":17.5},
              {"t":"04-01 05","v":8.7},{"t":"04-01 15","v":17.0},
              {"t":"04-02 05","v":7.4},{"t":"04-02 15","v":18.9},
              {"t":"04-03 05","v":9.7},{"t":"04-03 15","v":22.3},
              {"t":"04-04 05","v":9.2},{"t":"04-04 15","v":20.6},
              {"t":"04-05 05","v":10.4},{"t":"04-05 15","v":21.1},
              {"t":"04-06 05","v":11.3},{"t":"04-06 15","v":21.7},
              {"t":"04-07 05","v":12.3},{"t":"04-07 15","v":21.3},
              {"t":"04-08 05","v":13.2},{"t":"04-08 15","v":21.2},
              {"t":"04-09 05","v":13.1},{"t":"04-09 15","v":20.8},
              {"t":"04-10 05","v":13.7},{"t":"04-10 15","v":19.2},
              {"t":"04-11 05","v":13.1},{"t":"04-11 15","v":22.0},
              {"t":"04-12 05","v":11.3},{"t":"04-12 15","v":22.8},
              {"t":"04-13 05","v":13.5},{"t":"04-13 15","v":22.9},
              {"t":"04-14 05","v":12.6},{"t":"04-14 15","v":21.7},
              {"t":"04-15 05","v":13.5},{"t":"04-15 15","v":21.8},
              {"t":"04-16 05","v":14.2},{"t":"04-16 15","v":19.4},
              {"t":"04-17 05","v":14.7},{"t":"04-17 15","v":20.1},
              {"t":"04-18 05","v":13.1},{"t":"04-18 15","v":22.3},
              {"t":"04-19 05","v":12.6},{"t":"04-19 15","v":22.7},
              {"t":"04-20 05","v":13.5},{"t":"04-20 15","v":22.7},
              {"t":"04-21 05","v":14.3},{"t":"04-21 15","v":20.1},
              {"t":"04-22 05","v":11.3},{"t":"04-22 15","v":20.9},
              {"t":"04-23 05","v":14.0},{"t":"04-23 15","v":20.2},
              {"t":"04-24 05","v":14.8},{"t":"04-24 15","v":16.4},
              {"t":"04-25 05","v":13.7},{"t":"04-25 15","v":21.9},
              {"t":"04-26 05","v":12.6},{"t":"04-26 15","v":25.2},
              {"t":"04-27 05","v":14.0},{"t":"04-27 15","v":25.0},
              {"t":"04-28 05","v":14.7},{"t":"04-28 15","v":27.5},
              {"t":"04-29 05","v":15.2},{"t":"04-29 15","v":23.3},
              {"t":"04-30 05","v":14.8},{"t":"04-30 15","v":24.7},
              {"t":"05-01 05","v":14.0},{"t":"05-01 15","v":27.7},
              {"t":"05-02 05","v":15.4},{"t":"05-02 15","v":24.7},
              {"t":"05-03 05","v":15.6},{"t":"05-03 15","v":20.8},
              {"t":"05-04 05","v":15.9},{"t":"05-04 15","v":16.9},
              {"t":"05-05 05","v":14.7},{"t":"05-05 15","v":15.5},
              {"t":"05-06 05","v":17.2},{"t":"05-06 15","v":17.5},
              {"t":"05-07 05","v":17.8},{"t":"05-07 15","v":18.2},
              {"t":"05-08 05","v":18.2},{"t":"05-08 15","v":18.4},
              {"t":"05-09 05","v":16.4},{"t":"05-09 15","v":18.0},
              {"t":"05-10 05","v":18.5},{"t":"05-10 15","v":18.6},
              {"t":"05-11 05","v":18.6},{"t":"05-11 15","v":18.9},
              {"t":"05-12 05","v":17.4},{"t":"05-12 15","v":19.0},
              {"t":"05-13 05","v":15.0},{"t":"05-13 15","v":19.0},
              {"t":"05-14 05","v":15.6},{"t":"05-14 15","v":21.0},
              {"t":"05-15 05","v":15.8},{"t":"05-15 15","v":21.0},
              {"t":"05-16 05","v":15.8},{"t":"05-16 15","v":28.6},
              {"t":"05-17 05","v":15.8},{"t":"05-17 15","v":28.7},
              {"t":"05-18 05","v":17.5},{"t":"05-18 15","v":25.5},
              {"t":"05-19 05","v":17.7},{"t":"05-19 15","v":27.9},
              {"t":"05-20 05","v":17.5},{"t":"05-20 15","v":27.4},
              {"t":"05-21 05","v":16.9},{"t":"05-21 15","v":26.5},
              {"t":"05-22 05","v":17.7},{"t":"05-22 15","v":26.6},
              {"t":"05-23 05","v":17.7},{"t":"05-23 15","v":27.6},
              {"t":"05-24 05","v":18.0},{"t":"05-24 15","v":27.6},
              {"t":"05-25 05","v":18.3},{"t":"05-25 15","v":28.2},
              {"t":"05-26 05","v":18.0},{"t":"05-26 15","v":27.8},
              {"t":"05-27 05","v":18.6},{"t":"05-27 15","v":25.9},
              {"t":"05-28 05","v":18.8},{"t":"05-28 15","v":25.0},
              {"t":"05-29 05","v":19.0},{"t":"05-29 15","v":25.4},
              {"t":"05-30 05","v":16.1},{"t":"05-30 15","v":26.8},
              {"t":"05-31 05","v":16.4},{"t":"05-31 15","v":27.6},
              {"t":"06-01 05","v":17.5},{"t":"06-01 15","v":26.9},
              {"t":"06-02 05","v":18.8},{"t":"06-02 15","v":24.2},
              {"t":"06-03 05","v":19.3},{"t":"06-03 15","v":25.4},
              {"t":"06-04 05","v":19.6},{"t":"06-04 15","v":25.2},
              {"t":"06-05 05","v":19.9},{"t":"06-05 15","v":27.0},
              {"t":"06-06 05","v":20.1},{"t":"06-06 15","v":22.3},
              {"t":"06-07 05","v":20.2},{"t":"06-07 15","v":28.7},
              {"t":"06-08 05","v":19.9},{"t":"06-08 15","v":25.8},
              {"t":"06-09 05","v":19.7},{"t":"06-09 15","v":26.0},
              {"t":"06-10 05","v":20.1},{"t":"06-10 15","v":22.3},
              {"t":"06-11 05","v":20.2},{"t":"06-11 15","v":23.1},
              {"t":"06-12 05","v":20.5},{"t":"06-12 15","v":24.0},
              {"t":"06-13 05","v":19.9},{"t":"06-13 15","v":29.7},
              {"t":"06-14 05","v":21.2},{"t":"06-14 15","v":29.0},
              {"t":"06-15 05","v":20.4},{"t":"06-15 15","v":27.5},
              {"t":"06-16 05","v":19.3},{"t":"06-16 15","v":27.9},
              {"t":"06-17 05","v":19.2},{"t":"06-17 15","v":29.0},
              {"t":"06-18 05","v":19.7},{"t":"06-18 15","v":29.1},
              {"t":"06-19 05","v":20.8},{"t":"06-19 15","v":22.4},
              {"t":"06-20 05","v":21.2},{"t":"06-20 15","v":28.7},
              {"t":"06-21 05","v":21.3},{"t":"06-21 15","v":22.4},
              {"t":"06-22 05","v":21.8},{"t":"06-22 15","v":22.2},
              {"t":"06-23 05","v":22.0},{"t":"06-23 15","v":22.3},
              {"t":"06-24 05","v":22.1},{"t":"06-24 15","v":22.4},
              {"t":"06-25 05","v":20.9},{"t":"06-25 15","v":28.6},
              {"t":"06-26 05","v":21.2},{"t":"06-26 15","v":29.0},
              {"t":"06-27 05","v":21.3},{"t":"06-27 15","v":27.8},
              {"t":"06-28 05","v":21.2},{"t":"06-28 15","v":29.2},
              {"t":"06-29 05","v":22.3},{"t":"06-29 15","v":22.6},
              {"t":"06-30 05","v":21.5},{"t":"06-30 15","v":29.3},
              {"t":"06-30 22","v":22.3}
            ]
          },
          "mark": {"type": "line", "color": "#000000", "strokeWidth": 2.8, "strokeJoin": "round"},
          "encoding": {
            "x": {
              "field": "t", "type": "temporal",
              "scale": {"domain": [{"year": 1900, "month": 2, "date": 16, "hours": 19}, {"year": 1900, "month": 11, "date": 13}]},
              "axis": {
                "title": null,
                "labelPadding": 4,
                "values": [{"year": 1900, "month": 4, "date": 1}, {"year": 1900, "month": 5, "date": 16, "hours": 12}, {"year": 1900, "month": 7, "date": 1}, {"year": 1900, "month": 8, "date": 16}, {"year": 1900, "month": 10, "date": 1}],
                "labelExpr": "date(datum.value) == 1 ? timeFormat(datum.value, '%b') : ''",
                "tickOpacity": {"condition": {"test": "date(datum.value) == 1", "value": 1}, "value": 0},
                "gridWidth": {"condition": {"test": "date(datum.value) == 1", "value": 2.5}, "value": 1.25}
              }
            },
            "y": {
              "field": "v", "type": "quantitative",
              "scale": {"domain": [4.857, 37.333], "nice": false, "zero": false},
              "axis": {
                "title": null,
                "values": [5, 10, 15, 20, 25, 30, 35],
                "labelExpr": "datum.value % 10 == 0 ? datum.label : ''",
                "tickOpacity": {"condition": {"test": "datum.value % 10 == 0", "value": 1}, "value": 0},
                "gridWidth": {"condition": {"test": "datum.value % 10 == 0", "value": 2.5}, "value": 1.25}
              }
            }
          }
        },
        {
          "width": 44,
          "height": 341,
          "data": {"values": [{"yr": "2021"}]},
          "view": {"fill": "#D9D9D9", "stroke": "#333333", "strokeWidth": 2.5},
          "mark": {"type": "text", "angle": 90, "fontSize": 20.5, "color": "#1A1A1A", "align": "center", "baseline": "middle"},
          "encoding": {"text": {"field": "yr", "type": "nominal"}}
        }
      ]
    }
  ],
  "config": {
    "font": "Liberation Sans",
    "view": {"stroke": "#333333", "strokeWidth": 2.5},
    "axis": {
      "labelFont": "Liberation Sans",
      "labelFontSize": 20.5,
      "labelColor": "#4D4D4D",
      "labelPadding": 7,
      "labelOverlap": false,
      "labelFlush": false,
      "tickColor": "#333333",
      "tickWidth": 2.5,
      "tickSize": 6.4,
      "domain": false,
      "grid": true,
      "gridColor": "#EBEBEB",
      "titleFont": "Liberation Sans",
      "titleFontSize": 25.7,
      "titleFontWeight": "normal",
      "titleColor": "#000000",
      "titlePadding": 11
    }
  }
}
